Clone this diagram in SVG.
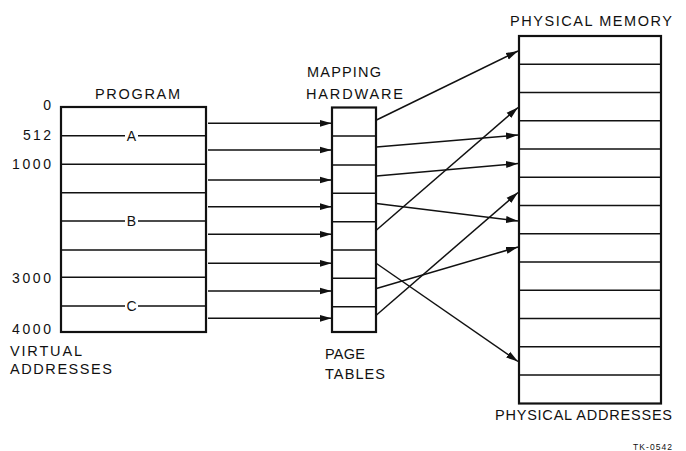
<svg xmlns="http://www.w3.org/2000/svg" width="686" height="451" viewBox="0 0 686 451">
<defs>
<marker id="ah" markerWidth="12" markerHeight="8" refX="12" refY="4" orient="auto" markerUnits="userSpaceOnUse">
<path d="M0,0.5 L12,4 L0,7.5 z" fill="#111"/>
</marker>
<style>
.t{font-family:"Liberation Sans",Arial,sans-serif;font-size:14.5px;fill:#111}
.n{font-family:"Liberation Sans",Arial,sans-serif;font-size:14px;fill:#111}
.box{fill:#fff;stroke:#111;stroke-width:2.2}
.ln{stroke:#111;stroke-width:1.4;fill:none}
.ar{stroke:#111;stroke-width:1.5;fill:none;marker-end:url(#ah)}
</style>
</defs>
<rect width="686" height="451" fill="#fff"/>

<g id="program">
<rect class="box" x="61" y="107" width="145" height="225"/>
<path class="ln" d="M61,135.7H125M138,135.7H206M61,164.3H206M61,192.7H206M61,221H125M138,221H206M61,250H206M61,277.3H206M61,306H125M138,306H206"/>
<text class="n" x="131.5" y="140.6" text-anchor="middle">A</text>
<text class="n" x="131.5" y="225.9" text-anchor="middle">B</text>
<text class="n" x="131.5" y="310.9" text-anchor="middle">C</text>
<text class="t" x="95" y="99" textLength="85" lengthAdjust="spacing">PROGRAM</text>
</g>

<g id="virtual-addresses">
<text class="n" x="51" y="110" text-anchor="end">0</text>
<text class="n" x="51" y="140" text-anchor="end" textLength="28" lengthAdjust="spacing">512</text>
<text class="n" x="51" y="169" text-anchor="end" textLength="39" lengthAdjust="spacing">1000</text>
<text class="n" x="51" y="283" text-anchor="end" textLength="39" lengthAdjust="spacing">3000</text>
<text class="n" x="51" y="334" text-anchor="end" textLength="39" lengthAdjust="spacing">4000</text>
<text class="t" x="10" y="356" textLength="72" lengthAdjust="spacing">VIRTUAL</text>
<text class="t" x="10" y="374" textLength="102" lengthAdjust="spacing">ADDRESSES</text>
</g>

<g id="page-tables">
<rect class="box" x="332" y="107.5" width="44" height="224.5"/>
<path class="ln" d="M332,136H376M332,165H376M332,193.3H376M332,221.7H376M332,250H376M332,278.3H376M332,306.7H376"/>
<text class="t" x="307" y="77" textLength="74" lengthAdjust="spacing">MAPPING</text>
<text class="t" x="306" y="99" textLength="97" lengthAdjust="spacing">HARDWARE</text>
<text class="t" x="325" y="359" textLength="40" lengthAdjust="spacing">PAGE</text>
<text class="t" x="325" y="379" textLength="60" lengthAdjust="spacing">TABLES</text>
</g>

<g id="physical-memory">
<rect class="box" x="519" y="36" width="142" height="367.5"/>
<path class="ln" d="M519,64.25H661M519,92.5H661M519,120.75H661M519,149H661M519,177.25H661M519,205.5H661M519,233.75H661M519,262H661M519,290.25H661M519,318.5H661M519,346.75H661M519,375H661"/>
<text class="t" x="510" y="26" textLength="162" lengthAdjust="spacing">PHYSICAL MEMORY</text>
<text class="t" x="495" y="420" textLength="177" lengthAdjust="spacing">PHYSICAL ADDRESSES</text>
</g>

<g id="connectors">
<path class="ar" d="M208,123.3H331.5"/>
<path class="ar" d="M208,150H331.5"/>
<path class="ar" d="M208,180H331.5"/>
<path class="ar" d="M208,206.7H331.5"/>
<path class="ar" d="M208,234.3H331.5"/>
<path class="ar" d="M208,263.3H331.5"/>
<path class="ar" d="M208,291H331.5"/>
<path class="ar" d="M208,318.3H331.5"/>
<path class="ar" d="M376.5,120L518,51"/>
<path class="ar" d="M376.5,147L518,135"/>
<path class="ar" d="M376.5,176L518,163.5"/>
<path class="ar" d="M376.5,203.5L518,221"/>
<path class="ar" d="M376.5,230L518,107.5"/>
<path class="ar" d="M376.5,263.5L518,361.5"/>
<path class="ar" d="M376.5,288.5L518,247"/>
<path class="ar" d="M376.5,315L518,192.5"/>
</g>

<text x="672" y="450" text-anchor="end" textLength="39" lengthAdjust="spacing" style="font-family:'Liberation Sans',Arial,sans-serif;font-size:8.5px;fill:#111">TK-0542</text>
</svg>
